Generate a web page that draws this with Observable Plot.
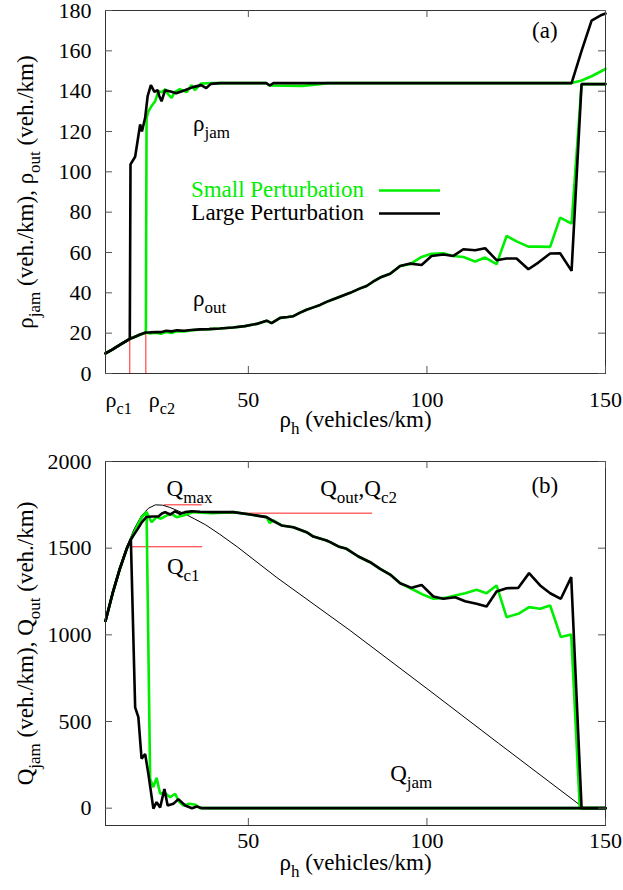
<!DOCTYPE html>
<html><head><meta charset="utf-8">
<script src="https://cdn.jsdelivr.net/npm/d3@7"></script>
<script src="https://cdn.jsdelivr.net/npm/@observablehq/plot@0.6"></script>
<style>
body{margin:0;background:#fff;}
#chart svg{display:block;}
#chart svg, #chart svg text{font-family:"Liberation Serif","Times New Roman",serif;}
</style></head><body><div id="chart"></div>
<script>
// ---------- DATA (rho_h in vehicles/km) ----------
// Panel (a): densities
const smallRhoJam = [[10,10],[12,12],[14,14.2],[16.8,17.2],[21.3,20.3],[21.5,126.8],[22,130],[22.9,132.6],[23.9,135],[24.8,140],[25.8,139.5],[26.7,141],[27.5,138.5],[28.5,136.7],[29.4,139.5],[30.8,141],[32.7,139.5],[34.1,143],[35,140.5],[36.8,143.8],[40,144],[55,144],[56,142.8],[65,142.6],[70,143.5],[72,144],[140.5,144],[143.3,145.3],[146.1,147.4],[150,151]];
const largeRhoJam = [[10,10],[12,12],[14,14.2],[16.8,17.2],[17,103.7],[18.3,107.5],[19.7,123.5],[20.2,120],[21.1,126.8],[21.8,137.5],[22.7,143],[23.7,139.7],[24.6,140.5],[25,137.9],[25.7,135],[26.7,140.5],[28.5,139.7],[29.8,139],[32.2,140.5],[34.5,142],[36.8,143],[38.2,141.5],[39.5,143.6],[42,144],[55,144],[56,142.8],[57,144],[140.5,144],[143.3,160],[146.1,175],[148.9,177.8],[150,178.5]];
const smallRhoOut = [[10,10],[12,12],[14,14.2],[16.8,17.2],[21.3,20.3],[22.5,19.8],[24,20.2],[25.5,19.7],[27,20.6],[28.5,20.1],[30,21],[32,20.8],[34,21.4],[36.5,21.8],[39,22],[42,22.3],[45.7,22.8],[49,23.5],[52.3,24.6],[55.1,26.2],[56.5,25],[58.9,27.6],[61,28],[62.6,28.4],[64.5,30.2],[66.3,31.6],[68.2,32.8],[70.1,34],[71.9,35.5],[73.8,36.8],[76,38.3],[78.5,40],[81.3,42.2],[83.1,43.4],[84.9,45.5],[86.9,47.6],[89.7,49.5],[92.5,53.3],[95.3,54.2],[98.5,57.8],[101.3,59.4],[104.6,59.6],[107.4,58.3],[110.2,57.8],[113.5,55.5],[116.3,57.5],[119.5,54.2],[122.3,68.2],[125.1,65.5],[128.4,62.9],[131.2,62.9],[134.5,62.8],[137.3,77.3],[140.5,74.3],[143.3,143.5],[150,143.5]];
const largeRhoOut = [[10,10],[12,12],[14,14.2],[16.8,17.2],[18,18],[19.5,19.2],[21.3,20.3],[22.5,20.4],[24,20.6],[25.5,20.5],[27,21.2],[28.5,20.9],[30,21.4],[32,21.2],[34,21.6],[36.5,21.9],[39,22],[42,22.3],[45.7,22.8],[49,23.5],[52.3,24.6],[55.1,26.2],[56.5,25],[58.9,27.6],[61,28],[62.6,28.4],[64.5,30.2],[66.3,31.6],[68.2,32.8],[70.1,34],[71.9,35.5],[73.8,36.8],[76,38.3],[78.5,40],[81.3,42.2],[83.1,43.4],[84.9,45.5],[86.9,47.6],[89.7,49.5],[92.5,53.3],[95.3,54.5],[98.5,53.8],[101.3,58.3],[104.6,59],[107.4,58.3],[110.2,61.6],[113.5,61.1],[116.3,62.1],[119.5,56.2],[122.3,57],[125.1,57],[128.4,51.7],[131.2,55],[134.5,59.5],[137.3,59.6],[140.5,50.9],[143.3,143.5],[150,143.5]];
const rhoCrit = [16.8, 21.3];          // rho_c1, rho_c2
const rhoCritOut = [17.2, 20.3];       // rho_out at the critical densities
const rhoCritLabels = ["ρ_{c1}", "ρ_{c2}"];

// Panel (b): flows
const fdCurve = [[10,1090],[12,1250],[14,1390],[16,1510],[18,1610],[20,1685],[22,1730],[24,1750],[26,1748],[28,1735],[30,1718],[32,1700],[35,1668],[38,1635],[42,1580],[47,1506],[58,1330],[78.5,1025],[100,690],[120,375],[144,0]];
const smallQOut = [[10,1080],[12,1240],[14,1380],[16,1500],[17.1,1550],[19,1630],[20.2,1680],[21.5,1708],[22.9,1650],[24.3,1679],[25.5,1670],[27.1,1688],[28.5,1698],[29.9,1679],[31.8,1688],[33.2,1698],[34.6,1708],[39.7,1702],[45.8,1708],[50.5,1694],[55.1,1679],[56,1645],[57,1660],[59.3,1631],[62.6,1621],[66.3,1592],[68.2,1567],[71.9,1544],[72.9,1535],[75.2,1510],[77.5,1496],[80.8,1452],[84.1,1419],[86.9,1381],[89.7,1348],[92.5,1298],[96.2,1260],[99,1231],[101.8,1208],[105.1,1213],[107.9,1227],[110.7,1240],[113.9,1260],[116.7,1240],[119.5,1285],[122.3,1102],[125.6,1121],[128.6,1160],[131.7,1150],[134.5,1169],[137.5,987],[140.4,1002],[142.8,0],[150,0]];
const largeQOut = [[10,1080],[12,1240],[14,1380],[16,1500],[17.1,1550],[17.8,1573],[19,1610],[20.2,1650],[21.5,1680],[23,1683],[24.8,1683],[25.8,1700],[26.7,1708],[28.1,1694],[29.5,1713],[30.9,1698],[32.3,1708],[34.1,1713],[36.5,1710],[40,1708],[45.8,1708],[50.5,1694],[55.1,1679],[57,1656],[59.3,1631],[62.6,1621],[66.3,1592],[68.2,1567],[71.9,1544],[72.9,1535],[75.2,1510],[77.5,1496],[80.8,1452],[84.1,1419],[86.9,1381],[89.7,1348],[92.5,1298],[95.7,1271],[98.5,1288],[101.8,1221],[104.6,1208],[107.9,1217],[110.7,1194],[113.9,1179],[116.7,1163],[119.5,1250],[122.3,1269],[125.6,1271],[128.6,1356],[131.7,1285],[134.5,1240],[137.5,1208],[140.4,1333],[143.3,0],[150,0]];
const smallQJam = [[10,1080],[12,1240],[14,1380],[16,1500],[17.1,1550],[19,1630],[20.2,1680],[21.5,1708],[22.5,169],[23.4,121],[24.3,175],[25.3,83],[26.5,90],[28.1,63],[29.5,83],[30.5,40],[31.8,15],[33.5,25],[35.2,20],[36.5,0],[150,0]];
const largeQJam = [[10,1080],[12,1240],[14,1380],[16,1500],[17.1,1550],[18.3,582],[19.2,525],[20.1,285],[21.1,313],[22,198],[23.4,-3],[24.3,35],[25.3,4],[26.5,111],[27.4,15],[29,25],[30.4,52],[32.3,15],[34.2,0],[35.6,10],[37,0],[150,0]];
const qCritNames = ["Q_c1", "Q_max", "Q_c2"];
const qCritLevels = [1508, 1750, 1702];
const qCritFrom = [17.3, 26.5, 36];
const qCritTo = [37.2, 37.1, 84.8];

// Ticks and texts
const xTicks = [50, 100, 150];
const yTicksA = [0, 20, 40, 60, 80, 100, 120, 140, 160, 180];
const yTicksB = [0, 500, 1000, 1500, 2000];
const xTitle = "ρ_{h} (vehicles/km)";
const yTitleA = "ρ_{jam} (veh./km), ρ_{out} (veh./km)";
const yTitleB = "Q_{jam} (veh./km), Q_{out} (veh./km)";
const legendLabels = ["Small Perturbation", "Large Perturbation"];
const annotA = [{label: "ρ_{jam}", x: 34.5, y: 124}, {label: "ρ_{out}", x: 34.5, y: 37}];
const annotB = [{label: "Q_{max}", x: 27.1, y: 1844}, {label: "Q_{out},Q_{c2}", x: 70.1, y: 1844}, {label: "Q_{c1}", x: 27.2, y: 1394}, {label: "Q_{jam}", x: 89.7, y: 200}];
const panelTagA = [{label: "(a)", x: 133, y: 170}];
const panelTagB = [{label: "(b)", x: 133, y: 1863}];

// ---------- STYLE ----------
const W = 623, ML = 105, MR = 18;
const FONT = "'Liberation Serif', 'Times New Roman', serif";
const FS = 22;      // tick labels
const FS2 = 23;     // titles, legend, annotations
const GREEN = "#00ee00", BLACK = "#000", RED = "#ff2020";
const THICK = 2.6;

function line(data, color, width = THICK) {
  return Plot.line(data, {x: d => d[0], y: d => d[1], stroke: color, strokeWidth: width, strokeLinejoin: "miter", curve: "linear"});
}

function makePanel(cfg) {
  const innerW = W - ML - MR;
  const innerH = cfg.height - cfg.marginTop - cfg.marginBottom;
  return Plot.plot({
    width: W, height: cfg.height,
    marginLeft: ML, marginRight: MR, marginTop: cfg.marginTop, marginBottom: cfg.marginBottom,
    style: {fontFamily: FONT, fontSize: FS + "px", background: "#fff", color: "#000"},
    x: {domain: [10, 150], axis: null},
    y: {domain: cfg.yDomain, axis: null},
    marks: [
      ...cfg.marks,
      Plot.frame({stroke: "#333", strokeWidth: 1}),
      Plot.tickY(cfg.yTicks, {y: d => d, insetRight: innerW - 7, stroke: "#555"}),
      Plot.tickY(cfg.yTicks, {y: d => d, insetLeft: innerW - 7, stroke: "#555"}),
      Plot.tickX(xTicks, {x: d => d, insetTop: innerH - 7, stroke: "#555"}),
      Plot.tickX(xTicks, {x: d => d, insetBottom: innerH - 7, stroke: "#555"}),
      Plot.axisY(cfg.yTicks, {anchor: "left", tickSize: 0, tickPadding: 14, label: null, tickFormat: d => `${d}`, fill: "#000", fontSize: FS}),
      Plot.axisX(xTicks, {anchor: "bottom", tickSize: 0, tickPadding: cfg.xPad, label: null, tickFormat: d => `${d}`, fill: "#000", fontSize: FS}),
      Plot.text([xTitle], {frameAnchor: "bottom", dy: cfg.xTitleDy, lineAnchor: "top", textAnchor: "middle", text: d => d, fill: "#000", fontSize: FS2}),
      Plot.text([cfg.yTitle], {frameAnchor: "left", rotate: -90, dx: -80, textAnchor: "middle", lineAnchor: "middle", text: d => d, fill: "#000", fontSize: FS2}),
      ...cfg.texts
    ]
  });
}

const panelA = makePanel({
  height: 445, marginTop: 10, marginBottom: 72, yDomain: [0, 180], yTicks: yTicksA,
  xPad: 18, xTitleDy: 37, yTitle: yTitleA,
  marks: [
    Plot.ruleX(rhoCrit.map((x, i) => ({x, y: rhoCritOut[i]})), {x: "x", y1: 0, y2: "y", stroke: RED, strokeWidth: 1}),
    line(smallRhoOut, GREEN), line(smallRhoJam, GREEN),
    line(largeRhoOut, BLACK), line(largeRhoJam, BLACK)
  ],
  texts: [
    Plot.text(annotA, {x: "x", y: "y", text: "label", textAnchor: "start", fill: "#000", fontSize: FS2}),
    Plot.text(panelTagA, {x: "x", y: "y", text: "label", textAnchor: "middle", fill: "#000", fontSize: FS2}),
    Plot.text([rhoCritLabels[0]], {x: () => rhoCrit[0], y: () => 0, dx: -11, dy: 18, lineAnchor: "top", text: d => d, fill: "#000", fontSize: FS}),
    Plot.text([rhoCritLabels[1]], {x: () => rhoCrit[1], y: () => 0, dx: 16, dy: 18, lineAnchor: "top", text: d => d, fill: "#000", fontSize: FS})
  ]
});

const panelB = makePanel({
  height: 445, marginTop: 16, marginBottom: 65, yDomain: [-100, 2000], yTicks: yTicksB,
  xPad: 7, xTitleDy: 28, yTitle: yTitleB,
  marks: [
    Plot.ruleY(qCritLevels.map((q, i) => ({q, x1: qCritFrom[i], x2: qCritTo[i], name: qCritNames[i]})), {y: "q", x1: "x1", x2: "x2", stroke: RED, strokeWidth: 1}),
    line(fdCurve, BLACK, 1),
    line(smallQOut, GREEN), line(smallQJam, GREEN),
    line(largeQOut, BLACK), line(largeQJam, BLACK)
  ],
  texts: [
    Plot.text(annotB, {x: "x", y: "y", text: "label", textAnchor: "start", fill: "#000", fontSize: FS2}),
    Plot.text(panelTagB, {x: "x", y: "y", text: "label", textAnchor: "middle", fill: "#000", fontSize: FS2})
  ]
});

// Legend of panel (a)
{
  const g = d3.select(panelA).append("g").attr("font-family", FONT).attr("font-size", FS2);
  const colors = [GREEN, BLACK];
  legendLabels.forEach((lab, i) => {
    g.append("text").attr("x", 364).attr("y", 197 + i * 23).attr("text-anchor", "end").attr("fill", colors[i]).text(lab);
    g.append("line").attr("x1", 379).attr("x2", 440).attr("y1", 190.5 + i * 23).attr("y2", 190.5 + i * 23)
      .attr("stroke", colors[i]).attr("stroke-width", THICK);
  });
}

document.getElementById("chart").append(panelA, panelB);

// Convert "_{...}" markup into subscript tspans
function subscripts(svg) {
  d3.select(svg).selectAll("text").each(function () {
    const t = this.textContent;
    if (!t.includes("_{")) return;
    const size = parseFloat(getComputedStyle(this).fontSize) || FS;
    const parts = t.split(/(_\{[^}]*\})/).filter(p => p);
    while (this.firstChild) this.removeChild(this.firstChild);
    const shift = size * 0.3;
    let down = false;
    for (const p of parts) {
      const ts = document.createElementNS("http://www.w3.org/2000/svg", "tspan");
      if (p.startsWith("_{")) {
        ts.textContent = p.slice(2, -1);
        ts.style.fontSize = (size * 0.74) + "px";
        ts.setAttribute("dy", down ? 0 : shift);
        down = true;
      } else {
        ts.textContent = p;
        if (down) ts.setAttribute("dy", -shift);
        down = false;
      }
      this.appendChild(ts);
    }
  });
}
subscripts(panelA);
subscripts(panelB);
</script></body></html>
